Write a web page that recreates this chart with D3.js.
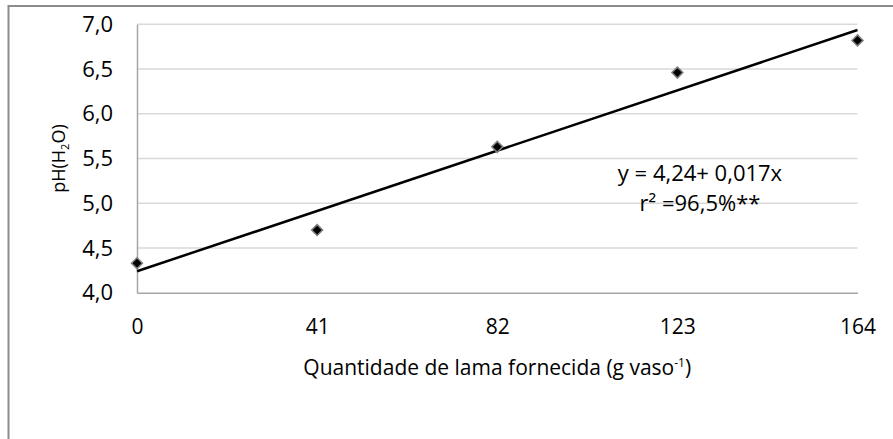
<!DOCTYPE html>
<html>
<head>
<meta charset="utf-8">
<script src="https://cdn.jsdelivr.net/npm/d3@7"></script>
<style>
  body { margin: 0; background: #fff; }
  text { font-family: "Open Sans", sans-serif; fill: #000; }
</style>
</head>
<body>
<svg id="chart" width="893" height="439"></svg>
<script>
// data
var doses = [0, 41, 82, 123, 164];
var phValues = [4.33, 4.70, 5.63, 6.46, 6.82];
var yTicks = [4.0, 4.5, 5.0, 5.5, 6.0, 6.5, 7.0];
var eqLines = ["y = 4,24+ 0,017x", "r\u00b2 =96,5%**"];

var svg = d3.select("#chart");
var W = 893, H = 439;
var FONT = "'Open Sans', sans-serif";

// chart frame (only left and top visible in the picture)
svg.append("rect")
   .attr("x", 8.5).attr("y", 6)
   .attr("width", W + 20).attr("height", H + 20)
   .attr("fill", "#fff")
   .attr("stroke", "#8c8c8c")
   .attr("stroke-width", 2);

var m = {left: 137, right: 857.5, top: 24.3, bottom: 292.7};

var x = d3.scaleLinear().domain([0, 164]).range([m.left, m.right]);
var y = d3.scaleLinear().domain([4, 7]).range([m.bottom, m.top]);

// gridlines
svg.append("g")
   .selectAll("line")
   .data(yTicks.slice(1))
   .enter().append("line")
   .attr("x1", m.left).attr("x2", m.right)
   .attr("y1", function(d) { return y(d); })
   .attr("y2", function(d) { return y(d); })
   .attr("stroke", "#d9d9d9")
   .attr("stroke-width", 1.5);

// y axis
var yAxis = d3.axisLeft(y)
   .tickValues(yTicks)
   .tickSize(0)
   .tickPadding(24)
   .tickFormat(function(d) { return d3.format(".1f")(d).replace(".", ","); });
var gy = svg.append("g").attr("transform", "translate(" + m.left + ",0)").call(yAxis);
gy.select(".domain").attr("stroke", "#a6a6a6").attr("stroke-width", 1.5);
gy.selectAll("text").attr("font-size", 22).attr("font-family", FONT);

// x axis
var xAxis = d3.axisBottom(x)
   .tickValues(doses)
   .tickSize(0)
   .tickPadding(26)
   .tickFormat(d3.format("d"));
var gx = svg.append("g").attr("transform", "translate(0," + m.bottom + ")").call(xAxis);
gx.select(".domain").attr("stroke", "#a6a6a6").attr("stroke-width", 1.5);
gx.selectAll("text").attr("font-size", 21).attr("font-family", FONT);

// least squares fit
var mx = d3.mean(doses), my = d3.mean(phValues);
var sxy = d3.sum(doses, function(d, i) { return (d - mx) * (phValues[i] - my); });
var sxx = d3.sum(doses, function(d) { return (d - mx) * (d - mx); });
var b = sxy / sxx, a = my - b * mx;
var ends = d3.extent(doses);

svg.append("line")
   .attr("x1", x(ends[0])).attr("y1", y(a + b * ends[0]))
   .attr("x2", x(ends[1])).attr("y2", y(a + b * ends[1]))
   .attr("stroke", "#000")
   .attr("stroke-width", 2.5);

// markers
var diamond = d3.symbol().type(d3.symbolSquare).size(60);
svg.append("g")
   .selectAll("path")
   .data(doses)
   .enter().append("path")
   .attr("d", diamond)
   .attr("transform", function(d, i) { return "translate(" + x(d) + "," + y(phValues[i]) + ") rotate(45)"; })
   .attr("fill", "#000")
   .attr("stroke", "#7f7f7f")
   .attr("stroke-width", 1.5);

// equation
svg.append("g")
   .selectAll("text")
   .data(eqLines)
   .enter().append("text")
   .attr("x", 700)
   .attr("y", function(d, i) { return 181 + i * 30; })
   .attr("text-anchor", "middle")
   .attr("font-size", 22)
   .text(function(d) { return d; });

// axis titles
var xt = svg.append("text")
   .attr("x", (m.left + m.right) / 2)
   .attr("y", 375)
   .attr("text-anchor", "middle")
   .attr("font-size", 21);
xt.append("tspan").text("Quantidade de lama fornecida (g vaso");
xt.append("tspan").attr("font-size", 12).attr("dy", -8).text("-1");
xt.append("tspan").attr("dy", 8).text(")");

var yt = svg.append("text")
   .attr("transform", "translate(65," + ((m.top + m.bottom) / 2) + ") rotate(-90)")
   .attr("text-anchor", "middle")
   .attr("font-size", 18);
yt.append("tspan").text("pH(H");
yt.append("tspan").attr("font-size", 11).attr("dy", 4).text("2");
yt.append("tspan").attr("dy", -4).text("O)");
</script>
</body>
</html>
